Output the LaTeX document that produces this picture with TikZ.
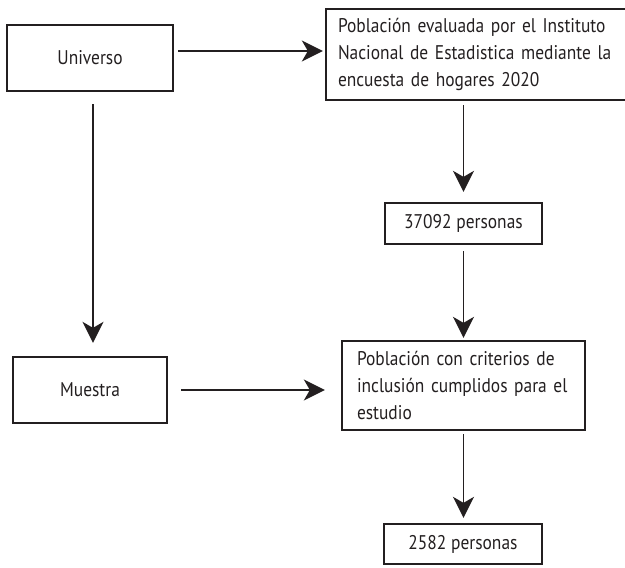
\documentclass[tikz,border=0pt]{standalone}
\usepackage{fontspec}
\setmainfont{PT Sans}[FakeStretch=0.88]
\usetikzlibrary{arrows.meta}
\definecolor{ink}{HTML}{231F20}
\begin{document}
\begin{tikzpicture}[x=1pt,y=-1pt,
  box/.style={draw=ink,line width=2.3pt,rectangle,inner sep=0pt,text=ink,
    font=\fontsize{19.8}{27}\selectfont},
  arr/.style={draw=ink,line width=1.8pt,-{Stealth[length=21pt,width=21pt,inset=6pt]}}]
\useasboundingbox (0,0) rectangle (625,568);
\clip (0,0) rectangle (625,568);
\node[box,minimum width=166pt,minimum height=66pt] (u) at (90,58) {Universo};
\node[box,minimum width=302pt,minimum height=91pt,text width=278pt,align=left,inner xsep=12pt] (p1) at (477,54.5)
  {Población evaluada por el Instituto\\Nacional de Estadistica mediante la\\encuesta de hogares 2020};
\node[box,minimum width=157pt,minimum height=41pt] (n1) at (463.5,223.5) {37092 personas};
\node[box,minimum width=243pt,minimum height=89pt,text width=213pt,align=left,inner xsep=15pt] (p2) at (463.5,385.5)
  {Población con criterios de\\inclusión cumplidos para el\\estudio};
\node[box,minimum width=154pt,minimum height=66pt] (m) at (90,390) {Muestra};
\node[box,minimum width=158pt,minimum height=40pt] (n2) at (463,544) {2582 personas};
\draw[arr,shorten <=4pt,shorten >=2pt] ([yshift=7pt]u.east) -- ([yshift=7pt]u.east -| p1.west);
\draw[arr,shorten <=12pt,shorten >=13pt] ([xshift=3pt]u.south) -- ([xshift=3pt]u.south |- m.north);
\draw[arr,shorten <=4pt,shorten >=10pt] (p1.south -| n1.north) -- (n1.north);
\draw[arr,shorten <=6pt,shorten >=2pt] (n1.south) -- (n1.south |- p2.north);
\draw[arr,shorten <=13pt,shorten >=16pt] (m.east) -- (m.east -| p2.west);
\draw[arr,shorten <=3pt,shorten >=5pt] (p2.south) -- (p2.south |- n2.north);
\end{tikzpicture}
\end{document}
